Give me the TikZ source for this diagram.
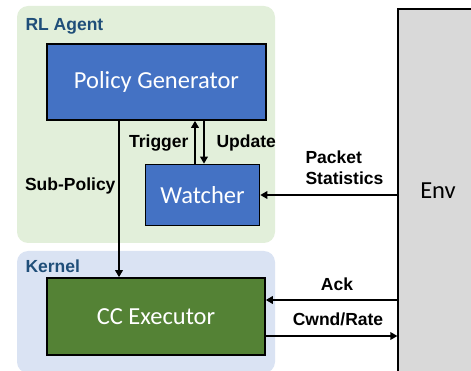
\documentclass[tikz,border=0pt]{standalone}
\usepackage{fontspec}
\setmainfont{Liberation Sans}
\newfontfamily\boxfont{Carlito}
\usetikzlibrary{arrows.meta}
\definecolor{agentgreen}{HTML}{E2EFDA}
\definecolor{kernelblue}{HTML}{DAE3F3}
\definecolor{boxblue}{HTML}{4472C4}
\definecolor{boxgreen}{HTML}{548235}
\definecolor{envgray}{HTML}{D9D9D9}
\definecolor{titleblue}{HTML}{1F4E79}

\begin{document}
\begin{tikzpicture}[x=1pt,y=-1pt,
  region/.style={rounded corners=11pt,inner sep=0pt},
  block/.style={draw=black,line width=1.6pt,inner sep=0pt,text=white,font=\boxfont\fontsize{24.5}{28}\selectfont},
  title/.style={anchor=west,text=titleblue,font=\bfseries\fontsize{17.5}{20}\selectfont},
  lbl/.style={font=\bfseries\fontsize{17.5}{21}\selectfont},
  arr/.style={line width=1.8pt,-{Triangle[length=7pt,width=7.5pt]}}]
\useasboundingbox (0,0) rectangle (471,371);
% Background regions
\node[region,fill=agentgreen,minimum width=258,minimum height=237] (agentbg) at (146,124.5) {};
\node[region,fill=kernelblue,minimum width=258,minimum height=122] (kernelbg) at (146,312) {};
\node[title] (agenttitle) at (22,26) {RL Agent};
\node[title] (kerneltitle) at (22,266) {Kernel};
% Blocks
\node[block,fill=boxblue,minimum width=219,minimum height=76] (policy) at (156.5,82) {Policy Generator};
\node[block,fill=boxblue,minimum width=114,minimum height=61] (watcher) at (202.5,195) {Watcher};
\node[block,fill=boxgreen,minimum width=218,minimum height=77] (cc) at (156,316.5) {CC Executor};
\node[draw=black,line width=1.2pt,fill=envgray,inner sep=0pt,minimum width=80,minimum height=364,
  font=\boxfont\fontsize{24.5}{28}\selectfont] (env) at (438,191) {Env};
% Arrow end points on the executor
\coordinate (ackin) at ([yshift=16.5pt]cc.east);
\coordinate (rateout) at ([yshift=-19.5pt]cc.east);
% Agent arrows
\draw[arr] ([xshift=-7.5pt]watcher.north) -- ([xshift=-7.5pt]watcher.north |- policy.south);
\draw[arr] ([xshift=1.5pt]watcher.north |- policy.south) -- ([xshift=1.5pt]watcher.north);
\draw[arr] ([xshift=-37.5pt]policy.south) -- ([xshift=-37.5pt]policy.south |- cc.north);
\node[lbl,anchor=east] (trigger) at (192,143) {Trigger};
\node[lbl,anchor=west] (update) at (213,143) {Update};
\node[lbl,anchor=east] (subpolicy) at (119,186) {Sub-Policy};
% Env arrows
\draw[arr] (env.west |- watcher.east) -- (watcher.east);
\draw[arr] (env.west |- ackin) -- (ackin);
\draw[arr] (rateout) -- (env.west |- rateout);
\node[lbl,anchor=west,align=left] (pktstats) at (302,168) {Packet\\Statistics};
\node[lbl] (ack) at (337,284) {Ack};
\node[lbl] (cwnd) at (338,319) {Cwnd/Rate};
\end{tikzpicture}
\end{document}
